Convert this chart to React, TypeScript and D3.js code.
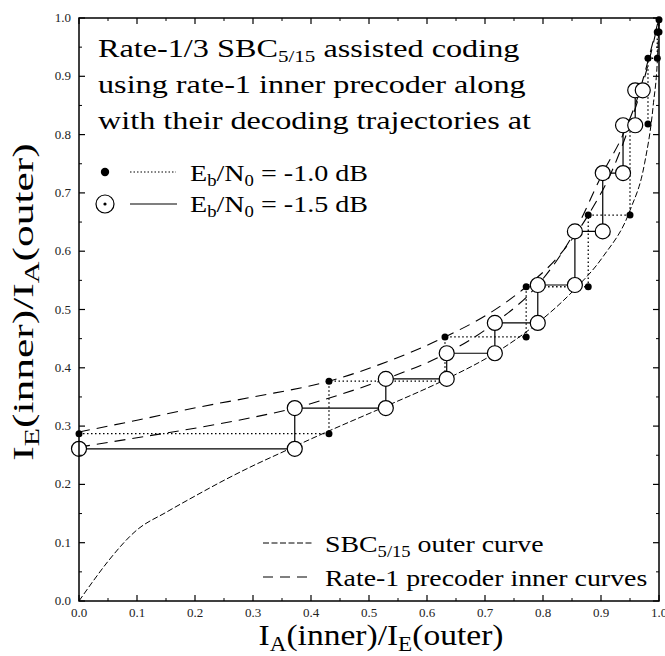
import * as d3 from "d3";

const W = 665;
const H = 656;

// tick values
const majorTicks = [0, 0.1, 0.2, 0.3, 0.4, 0.5, 0.6, 0.7, 0.8, 0.9, 1.0];
const minorTicks = [0.05, 0.15, 0.25, 0.35, 0.45, 0.55, 0.65, 0.75, 0.85, 0.95];

// SBC(5/15) outer curve, [IE(outer), IA(outer)]
const outerCurve = [
  [0, 0], [0.025, 0.035], [0.05, 0.068], [0.1, 0.122], [0.15, 0.152],
  [0.2, 0.18], [0.25, 0.207], [0.3, 0.232], [0.35, 0.255], [0.4, 0.278],
  [0.45, 0.3], [0.529, 0.334], [0.634, 0.381], [0.717, 0.425], [0.791, 0.477],
  [0.855, 0.535], [0.903, 0.59], [0.95, 0.67], [0.975, 0.75], [0.99, 0.85],
  [0.998, 0.945], [1.0, 1.0],
];

// rate-1 precoder inner curves
const innerCurve10 = [
  [0, 0.29], [0.1, 0.31], [0.209, 0.333], [0.3, 0.35], [0.431, 0.377],
  [0.53, 0.41], [0.631, 0.453], [0.71, 0.495], [0.771, 0.539], [0.83, 0.595],
  [0.878, 0.662], [0.92, 0.74], [0.95, 0.818], [0.97, 0.88], [0.984, 0.931], [1.0, 1.0],
];
const innerCurve15 = [
  [0, 0.264], [0.1, 0.28], [0.209, 0.298], [0.3, 0.315], [0.372, 0.331],
  [0.45, 0.354], [0.529, 0.381], [0.634, 0.425], [0.717, 0.477], [0.791, 0.542],
  [0.855, 0.634], [0.903, 0.734], [0.938, 0.8], [0.962, 0.86], [0.982, 0.93], [1.0, 1.0],
];

// decoding trajectories
const traj10 = [
  [0, 0.287], [0.431, 0.287], [0.431, 0.377], [0.631, 0.377], [0.631, 0.453],
  [0.771, 0.453], [0.771, 0.539], [0.878, 0.539], [0.878, 0.662], [0.95, 0.662],
  [0.95, 0.818], [0.981, 0.818], [0.981, 0.931], [0.997, 0.931], [0.997, 0.976],
  [1.0, 0.976], [1.0, 0.997],
];
const traj15 = [
  [0, 0.261], [0.372, 0.261], [0.372, 0.331], [0.529, 0.331], [0.529, 0.381],
  [0.634, 0.381], [0.634, 0.425], [0.717, 0.425], [0.717, 0.477], [0.791, 0.477],
  [0.791, 0.542], [0.855, 0.542], [0.855, 0.634], [0.903, 0.634], [0.903, 0.734],
  [0.938, 0.734], [0.938, 0.816], [0.959, 0.816], [0.959, 0.876], [0.972, 0.876],
];

const FONT = "'Liberation Serif', 'Times New Roman', serif";

export default function App() {
  const x = d3.scaleLinear([0, 1], [79, 659]);
  const y = d3.scaleLinear([0, 1], [601, 18]);

  const smooth = d3.line<number[]>()
    .x(d => x(d[0]))
    .y(d => y(d[1]))
    .curve(d3.curveMonotoneX);
  const straight = d3.line<number[]>()
    .x(d => x(d[0]))
    .y(d => y(d[1]));

  const [x0, x1] = x.range();
  const [y0, y1] = y.range();

  return (
    <svg width={W} height={H} style={{ position: "absolute", left: 0, top: 0, background: "#fff" }}
      fontFamily={FONT}>
      {/* curves */}
      <path d={smooth(outerCurve)!} fill="none" stroke="#000" strokeWidth={1} strokeDasharray="6,2.5" />
      <path d={smooth(innerCurve10)!} fill="none" stroke="#000" strokeWidth={1.1} strokeDasharray="11,7" />
      <path d={smooth(innerCurve15)!} fill="none" stroke="#000" strokeWidth={1.1} strokeDasharray="11,7" />

      {/* trajectories */}
      <path d={straight(traj10)!} fill="none" stroke="#000" strokeWidth={1.3} strokeDasharray="1.5,2.5" />
      <path d={straight(traj15)!} fill="none" stroke="#000" strokeWidth={1.2} />
      {traj10.map((d, i) => (
        <circle key={"f" + i} cx={x(d[0])} cy={y(d[1])} r={3.5} fill="#000" />
      ))}
      {traj15.map((d, i) => (
        <circle key={"o" + i} cx={x(d[0])} cy={y(d[1])} r={7.5} fill="#fff" stroke="#000" strokeWidth={1.2} />
      ))}

      {/* frame */}
      <rect x={x0} y={y1} width={x1 - x0} height={y0 - y1} fill="none" stroke="#000" strokeWidth={1.5} />
      {majorTicks.map(t => (
        <g key={"M" + t} stroke="#000" strokeWidth={1.2}>
          <line x1={x(t)} x2={x(t)} y1={y0} y2={y0 - 6} />
          <line x1={x(t)} x2={x(t)} y1={y1} y2={y1 + 6} />
          <line x1={x0} x2={x0 + 6} y1={y(t)} y2={y(t)} />
          <line x1={x1} x2={x1 - 6} y1={y(t)} y2={y(t)} />
        </g>
      ))}
      {minorTicks.map(t => (
        <g key={"m" + t} stroke="#000" strokeWidth={1}>
          <line x1={x(t)} x2={x(t)} y1={y0} y2={y0 - 3} />
          <line x1={x(t)} x2={x(t)} y1={y1} y2={y1 + 3} />
          <line x1={x0} x2={x0 + 3} y1={y(t)} y2={y(t)} />
          <line x1={x1} x2={x1 - 3} y1={y(t)} y2={y(t)} />
        </g>
      ))}
      {majorTicks.map(t => (
        <text key={"xl" + t} x={x(t)} y={y0 + 16} textAnchor="middle" fontSize={13} fill="#222">
          {t.toFixed(1)}
        </text>
      ))}
      {majorTicks.map(t => (
        <text key={"yl" + t} x={x0 - 8} y={y(t) + 4} textAnchor="end" fontSize={13} fill="#222">
          {t.toFixed(1)}
        </text>
      ))}

      {/* axis titles */}
      <text transform="translate(381,645) scale(1.157,1)" textAnchor="middle" fontSize={29} fill="#000">
        I<tspan dy={6} fontSize={20}>A</tspan><tspan dy={-6}>(inner)/I</tspan>
        <tspan dy={6} fontSize={20}>E</tspan><tspan dy={-6}>(outer)</tspan>
      </text>
      <text transform="translate(33,302) rotate(-90) scale(1.5,1)" textAnchor="middle" fontSize={29} fill="#000">
        I<tspan dy={6} fontSize={20}>E</tspan><tspan dy={-6}>(inner)/I</tspan>
        <tspan dy={6} fontSize={20}>A</tspan><tspan dy={-6}>(outer)</tspan>
      </text>

      {/* title */}
      <g fontSize={26} fill="#000">
        <text transform="translate(98,57) scale(1.24,1)">
          Rate-1/3 SBC<tspan dy={5} fontSize={17}>5/15</tspan><tspan dy={-5}> assisted coding</tspan>
        </text>
        <text transform="translate(98,93) scale(1.24,1)">using rate-1 inner precoder along</text>
        <text transform="translate(98,129) scale(1.24,1)">with their decoding trajectories at</text>
      </g>

      {/* trajectory legend */}
      <circle cx={105} cy={172} r={4.2} fill="#000" />
      <line x1={130} x2={176} y1={172} y2={172} stroke="#000" strokeWidth={1.2} strokeDasharray="1.5,2" />
      <text transform="translate(190,181) scale(1.17,1)" fontSize={24}>
        E<tspan dy={5} fontSize={16}>b</tspan><tspan dy={-5}>/N</tspan>
        <tspan dy={5} fontSize={16}>0</tspan><tspan dy={-5}> = -1.0 dB</tspan>
      </text>
      <circle cx={105} cy={204} r={9} fill="#fff" stroke="#000" strokeWidth={1.2} />
      <circle cx={105} cy={204} r={1.6} fill="#000" />
      <line x1={130} x2={177} y1={204} y2={204} stroke="#000" strokeWidth={1.2} />
      <text transform="translate(190,212) scale(1.17,1)" fontSize={24}>
        E<tspan dy={5} fontSize={16}>b</tspan><tspan dy={-5}>/N</tspan>
        <tspan dy={5} fontSize={16}>0</tspan><tspan dy={-5}> = -1.5 dB</tspan>
      </text>

      {/* curve legend */}
      <line x1={263} x2={313} y1={543} y2={543} stroke="#000" strokeWidth={1} strokeDasharray="6,2.5" />
      <text transform="translate(325,552) scale(1.16,1)" fontSize={24}>
        SBC<tspan dy={5} fontSize={16}>5/15</tspan><tspan dy={-5}> outer curve</tspan>
      </text>
      <line x1={263} x2={309} y1={577} y2={577} stroke="#000" strokeWidth={1.1} strokeDasharray="10,7" />
      <text transform="translate(325,586) scale(1.16,1)" fontSize={24}>Rate-1 precoder inner curves</text>
    </svg>
  );
}
